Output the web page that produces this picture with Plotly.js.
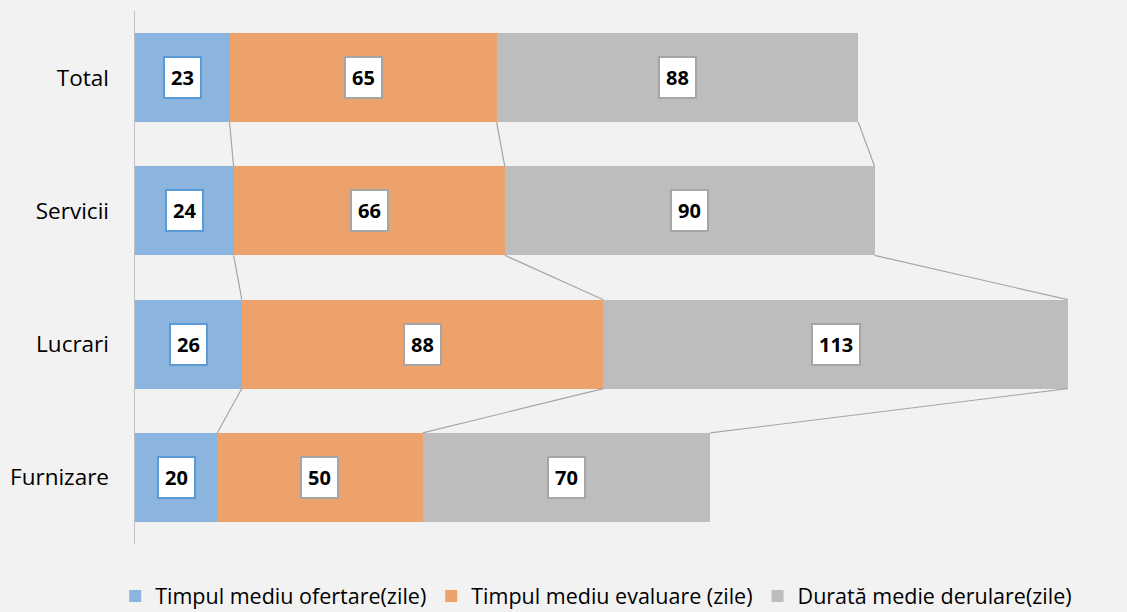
<!DOCTYPE html>
<html><head><meta charset="utf-8">
<script src="https://cdn.plot.ly/plotly-3.0.1.min.js"></script>
<style>html,body{margin:0;padding:0;background:#f2f2f2;}#chart{width:1127px;height:612px;}</style>
</head><body><div id="chart"></div>
<script>
const categories = ["Total", "Servicii", "Lucrari", "Furnizare"];
const seriesNames = ["Timpul mediu ofertare(zile)", "Timpul mediu evaluare (zile)", "Durată medie derulare(zile)"];
const ofertare = [23, 24, 26, 20];
const evaluare = [65, 66, 88, 50];
const derulare = [88, 90, 113, 70];

const colors = ["#8bb4de", "#eda16b", "#bdbdbd"];
const labelBorders = ["#5b9bd5", "#a5a5a5", "#a5a5a5"];
const seriesVals = [ofertare, evaluare, derulare];
const ypos = categories.map((c, i) => categories.length - 1 - i);
const barW = 0.667;
const font = "'Open Sans', sans-serif";

const traces = [];
const cum = categories.map(() => 0);
const cumEnds = seriesVals.map(vals => vals.map((v, i) => (cum[i] += v)));
cumEnds.forEach(ends => {
  for (let i = 0; i < categories.length - 1; i++) {
    traces.push({
      type: "scatter", mode: "lines", showlegend: false, hoverinfo: "skip",
      x: [ends[i], ends[i + 1]],
      y: [ypos[i] - barW / 2, ypos[i + 1] + barW / 2],
      line: {color: "#a6a6a6", width: 1.2}
    });
  }
});
seriesVals.forEach((vals, s) => {
  traces.push({
    type: "bar", orientation: "h", name: seriesNames[s],
    x: vals, y: ypos, width: barW,
    marker: {color: colors[s], line: {width: 0}},
    hoverinfo: "x"
  });
});

const annotations = [];
seriesVals.forEach((vals, s) => {
  vals.forEach((v, i) => {
    annotations.push({
      x: cumEnds[s][i] - v / 2, y: ypos[i], xref: "x", yref: "y",
      text: "<b>" + v + "</b>", showarrow: false,
      font: {family: font, size: 20, color: "#000"},
      bgcolor: "#ffffff", bordercolor: labelBorders[s], borderwidth: 2, borderpad: 6
    });
  });
});

const layout = {
  width: 1127, height: 612,
  paper_bgcolor: "#f2f2f2", plot_bgcolor: "#f2f2f2",
  margin: {l: 135, r: 5, t: 10.75, b: 67.75, autoexpand: false},
  barmode: "stack",
  font: {family: font, color: "#000"},
  xaxis: {range: [0, 240.2], autorange: false, showgrid: false, zeroline: false, showticklabels: false, showline: false, fixedrange: true},
  yaxis: {range: [-0.5, 3.5], autorange: false, tickvals: ypos, ticktext: categories, showgrid: false, zeroline: false,
          showline: true, linecolor: "#bfbfbf", linewidth: 1.5, ticks: "", ticklabelstandoff: 20,
          tickfont: {family: font, size: 22.5, color: "#000"}},
  legend: {orientation: "h", xref: "container", x: 0.529, xanchor: "center", yref: "container", y: 0.026, yanchor: "middle",
           font: {family: font, size: 21.5, color: "#000"}, traceorder: "normal", itemwidth: 30, bgcolor: "rgba(0,0,0,0)"},
  annotations: annotations,
  showlegend: true
};
Plotly.newPlot("chart", traces, layout, {displayModeBar: false, staticPlot: true});
</script></body></html>
